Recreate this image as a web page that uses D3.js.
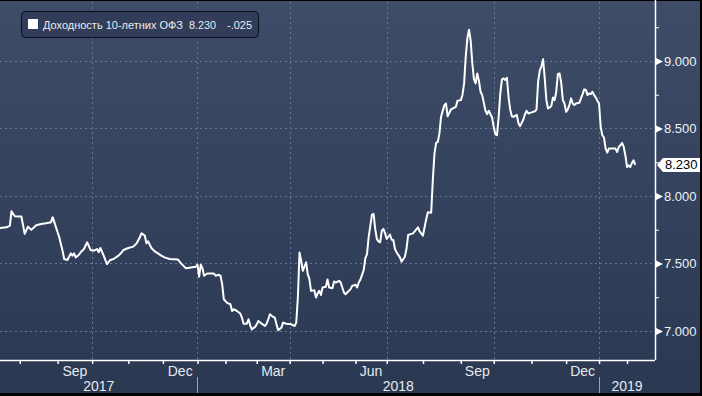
<!DOCTYPE html>
<html>
<head>
<meta charset="utf-8">
<script src="https://cdn.jsdelivr.net/npm/d3@7"></script>
<style>
  body { margin: 0; background: #000; }
  svg { display: block; }
  text { font-family: "Liberation Sans", Arial, sans-serif; }
</style>
</head>
<body>
<svg id="chart" width="702" height="396"></svg>
<script>
// trading calendar (MOEX): weekdays minus these holidays
const firstDay = "2017-07-14", lastDay = "2019-02-26";
const holidays = ["2017-11-06","2018-01-01","2018-01-02","2018-01-03","2018-01-04","2018-01-05",
  "2018-01-08","2018-02-23","2018-03-08","2018-03-09","2018-04-30","2018-05-01","2018-05-02",
  "2018-05-09","2018-06-11","2018-06-12","2018-11-05","2018-12-31","2019-01-01","2019-01-02",
  "2019-01-03","2019-01-04","2019-01-07","2019-01-08"];

// trading session number (from 14 Jul 2017) and yield
const session = [0,4,6,7,9,12,13,15,17,19,22,25,28,31,32,33,35,36,38,39,41,43,44,45,46,48,49,51,53,55,
  57,59,60,61,63,65,67,69,72,74,75,78,81,83,85,86,88,89,90,92,94,96,98,100,103,108,110,113,116,119,
  120,121,122,123,124,126,130,131,133,134,135,136,138,140,141,142,144,146,147,148,150,151,152,153,155,
  156,157,159,161,162,163,164,166,167,168,169,171,172,174,177,179,180,181,182,183,184,185,186,187,188,
  189,191,192,193,194,195,196,198,199,200,202,203,204,206,207,208,209,210,211,213,214,216,217,218,219,
  221,222,223,224,226,227,228,229,230,231,232,233,234,235,236,237,238,239,240,241,243,244,246,247,248,
  250,251,253,254,255,257,258,259,260,262,263,264,265,266,267,268,270,271,272,274,275,277,278,280,281,
  282,283,284,285,286,287,288,289,290,291,292,293,294,295,296,297,299,300,301,302,303,304,305,306,307,
  308,309,310,311,312,314,315,316,317,318,319,320,321,323,325,326,327,328,329,330,331,332,333,334,335,
  336,337,338,339,340,341,342,343,344,345,346,347,348,349,350,352,353,354,355,356,357,358,359,360,361,
  362,363,364,365,366,367,368,369,370,372,374,375,376,377,378,379,380,381,382,383,384,385,386];
const yields = [7.763,7.768,7.781,7.887,7.850,7.848,7.848,7.719,7.773,7.749,7.783,7.793,7.798,7.806,7.843,
  7.806,7.731,7.694,7.595,7.533,7.526,7.575,7.558,7.575,7.545,7.565,7.583,7.607,7.657,7.600,
  7.595,7.607,7.583,7.615,7.558,7.496,7.526,7.533,7.558,7.583,7.600,7.615,7.625,7.649,7.694,7.724,7.706,
  7.649,7.664,7.615,7.590,7.575,7.558,7.545,7.533,7.530,7.501,7.464,7.471,7.476,
  7.491,7.402,7.491,7.466,7.409,7.426,7.426,7.409,7.416,7.409,7.347,7.235,7.208,7.198,7.148,7.161,7.148,
  7.129,7.099,7.054,7.054,7.087,7.044,7.012,7.030,
  7.049,7.074,7.054,7.037,7.054,7.087,7.124,7.104,7.099,7.049,7.005,7.025,7.062,7.054,7.049,7.037,7.062,
  7.248,7.582,7.520,7.446,7.476,7.508,7.421,7.384,
  7.297,7.302,7.248,7.277,7.297,7.267,7.322,7.327,7.381,7.322,7.317,7.367,7.359,7.372,7.359,7.322,7.285,
  7.272,7.285,7.310,7.334,7.342,7.322,7.359,7.381,
  7.451,7.540,7.570,7.694,7.862,7.867,7.756,7.681,7.664,7.657,7.743,7.756,7.723,7.681,7.699,7.714,7.676,
  7.674,7.607,7.582,7.545,7.513,7.550,7.607,7.711,
  7.719,7.723,7.753,7.768,7.738,7.706,7.768,7.830,7.880,7.875,8.120,8.314,8.393,8.400,8.462,8.586,8.673,
  8.685,8.590,8.641,8.648,8.661,8.705,8.710,8.747,
  8.834,9.032,9.169,9.231,9.150,8.983,8.864,8.834,8.908,8.854,8.772,8.747,8.690,8.631,8.606,8.631,8.581,
  8.512,8.457,8.450,8.586,8.760,8.864,8.871,8.859,
  8.876,8.735,8.641,8.591,8.586,8.601,8.540,8.517,8.542,8.567,8.606,8.631,8.611,8.619,8.628,8.641,8.850,
  8.930,8.960,9.013,8.871,8.710,8.648,8.656,8.666,
  8.730,8.710,8.772,8.904,8.908,8.840,8.710,8.685,8.623,8.641,8.673,8.723,8.685,8.673,8.685,8.690,8.723,
  8.755,8.790,8.785,8.747,8.760,8.755,8.772,8.747,
  8.730,8.705,8.685,8.512,8.450,8.433,8.351,8.321,8.351,8.351,8.351,8.326,8.363,8.376,8.393,8.363,8.301,
  8.215,8.227,8.215,8.244,8.264,8.230];

const yTicks = [7.0, 7.5, 8.0, 8.5, 9.0];
const yMinorTicks = [7.25, 7.75, 8.25, 8.75, 9.25];
const yDomain = [6.785, 9.437];
const quarterMonths = ["2017-09", "2017-12", "2018-03", "2018-06", "2018-09", "2018-12"];
const yearLabels = ["2017", "2018", "2019"];
const seriesName = "Доходность 10-летних ОФЗ", lastValue = 8.230, lastChange = "-.025";

const W = 702, H = 396;
const plot = {left: 0, right: 655, top: 2, bottom: 360};

const parse = d3.timeParse("%Y-%m-%d");
const fmt = d3.timeFormat("%Y-%m-%d");
const off = new Set(holidays);
const days = d3.timeDay.range(parse(firstDay), d3.timeDay.offset(parse(lastDay), 1))
  .filter(d => d.getDay() % 6 !== 0 && !off.has(fmt(d)));
const sessionOf = date => d3.bisector(d => d).left(days, date);

const x = d3.scaleLinear().domain([0, days.length - 1]).range([plot.left, plot.right]);
const y = d3.scaleLinear().domain(yDomain).range([plot.bottom, plot.top]);

const svg = d3.select("#chart");

const grad = svg.append("defs").append("linearGradient")
  .attr("id", "bg").attr("x1", 0).attr("y1", 0).attr("x2", 0).attr("y2", 1);
grad.append("stop").attr("offset", "0%").attr("stop-color", "#3f4c68");
grad.append("stop").attr("offset", "100%").attr("stop-color", "#2a3852");

svg.append("rect").attr("width", W).attr("height", H).attr("fill", "#000");
svg.append("rect").attr("x", 0).attr("y", 1).attr("width", 700).attr("height", 392).attr("fill", "url(#bg)");

// month starts in the visible range
const months = d3.timeMonth.range(d3.timeMonth.ceil(parse(firstDay)), parse(lastDay))
  .map(m => ({date: m, s: sessionOf(m)}));
const gridMonths = months.filter(m => m.date.getMonth() % 3 === 0);

const gridColor = "#62779a";
svg.append("g").selectAll("line").data(yTicks).join("line")
  .attr("x1", plot.left).attr("x2", plot.right)
  .attr("y1", d => Math.round(y(d)) + 0.5).attr("y2", d => Math.round(y(d)) + 0.5)
  .attr("stroke", gridColor).attr("stroke-dasharray", "2,3");
svg.append("g").selectAll("line").data(gridMonths).join("line")
  .attr("x1", d => Math.round(x(d.s)) + 0.5).attr("x2", d => Math.round(x(d.s)) + 0.5)
  .attr("y1", plot.top).attr("y2", plot.bottom)
  .attr("stroke", gridColor).attr("stroke-dasharray", "2,3");

// series
const line = d3.line()
  .x((d, i) => x(session[i]))
  .y(d => y(d));
svg.append("path").datum(yields)
  .attr("d", line)
  .attr("fill", "none")
  .attr("stroke", "#fff")
  .attr("stroke-width", 2)
  .attr("stroke-linejoin", "round");

// bottom axis
const gX = svg.append("g").attr("transform", `translate(0,${plot.bottom})`)
  .call(d3.axisBottom(x).tickValues(months.map(m => m.s)).tickSize(4).tickFormat(""));
gX.select(".domain").attr("stroke", "#fff").attr("stroke-width", 1.5).attr("d", `M0,0.5H${plot.right}`);
gX.selectAll(".tick line").attr("stroke", "#fff").attr("stroke-width", 1.5);

const labelFont = '"Liberation Sans Narrow", "Liberation Sans", Arial, sans-serif';
quarterMonths.forEach(q => {
  const m = parse(q + "-01");
  const s0 = sessionOf(m), s1 = sessionOf(d3.timeMonth.offset(m, 1));
  svg.append("text")
    .attr("x", (x(s0) + x(s1)) / 2).attr("y", 376)
    .attr("text-anchor", "middle").attr("fill", "#e6eaf0")
    .style("font-family", labelFont).style("font-size", "14px")
    .text(d3.timeFormat("%b")(m));
});

yearLabels.forEach(yr => {
  const s0 = sessionOf(parse(yr + "-01-01"));
  const s1 = sessionOf(parse((+yr + 1) + "-01-01"));
  const a = Math.max(plot.left, x(s0)), b = Math.min(plot.right, x(s1));
  if (x(s0) > plot.left) {
    svg.append("line")
      .attr("x1", Math.round(x(s0)) + 0.5).attr("x2", Math.round(x(s0)) + 0.5)
      .attr("y1", 377).attr("y2", 393).attr("stroke", "#9aa4b4");
  }
  svg.append("text")
    .attr("x", (a + b) / 2).attr("y", 391)
    .attr("text-anchor", "middle").attr("fill", "#e6eaf0")
    .style("font-family", labelFont).style("font-size", "14px")
    .text(yr);
});

// right axis
const gY = svg.append("g").attr("transform", `translate(${plot.right},0)`)
  .call(d3.axisRight(y).tickValues(yTicks).tickSize(0).tickPadding(9).tickFormat(d3.format(".3f")));
gY.select(".domain").attr("stroke", "#fff").attr("stroke-width", 1.5).attr("d", `M0.5,0V${plot.bottom}`);
gY.selectAll(".tick text").attr("fill", "#eef1f5").style("font-size", "13px")
  .style("font-family", '"Liberation Sans", Arial, sans-serif');
gY.selectAll(".tick").append("path")
  .attr("d", "M1,-3.5L8,0L1,3.5Z").attr("fill", "#fff");
svg.append("g").attr("transform", `translate(${plot.right},0)`)
  .call(d3.axisRight(y).tickValues(yMinorTicks).tickSize(4).tickFormat(""))
  .call(g => g.select(".domain").remove())
  .selectAll(".tick line").attr("stroke", "#fff");

// last value tag
const yl = y(lastValue);
svg.append("path")
  .attr("d", `M657,${yl}L663,${yl - 7}H702V${yl + 7}H663Z`)
  .attr("fill", "#fff");
svg.append("text")
  .attr("x", 665).attr("y", yl + 4.5)
  .attr("fill", "#000").style("font-size", "13px")
  .text(d3.format(".3f")(lastValue));

// legend
svg.append("rect")
  .attr("x", 21.5).attr("y", 11.5).attr("width", 237).attr("height", 26).attr("rx", 4)
  .attr("fill", "#323e59").attr("stroke", "#0b0f18");
svg.append("rect").attr("x", 28).attr("y", 19).attr("width", 10).attr("height", 10).attr("fill", "#fff");
const legendText = [[43, seriesName, 140], [189, d3.format(".3f")(lastValue), 27], [227, lastChange, 25]];
svg.append("g").selectAll("text").data(legendText).join("text")
  .attr("x", d => d[0]).attr("y", 29)
  .attr("textLength", d => d[2]).attr("lengthAdjust", "spacingAndGlyphs")
  .attr("fill", "#e8ecf2").style("font-size", "11.5px")
  .text(d => d[1]);

// outer frame
svg.append("rect").attr("x", 700).attr("y", 0).attr("width", 2).attr("height", H).attr("fill", "#000");
svg.append("rect").attr("x", 0).attr("y", 393).attr("width", W).attr("height", 3).attr("fill", "#000");
</script>
</body>
</html>
